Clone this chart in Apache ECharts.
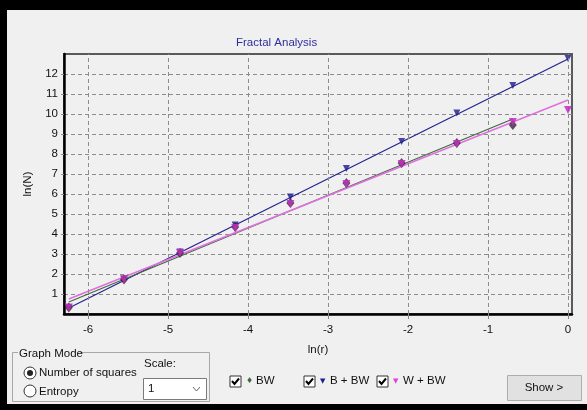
<!DOCTYPE html>
<html>
<head>
<meta charset="utf-8">
<script src="https://cdn.jsdelivr.net/npm/echarts@6/dist/echarts.min.js"></script>
<style>
  body { margin: 0; background: #000; }
  #main { width: 587px; height: 410px; }
</style>
</head>
<body>
<div id="main"></div>
<script>
// ln(r) positions of the box sizes
var lnR = [-6.24, -5.55, -4.85, -4.16, -3.47, -2.77, -2.08, -1.39, -0.69, 0];
// ln(N) for each set
var bw = [0.33, 1.72, 3.05, 4.35, 5.55, 6.55, 7.55, 8.55, 9.45];
var bbw = [0.33, 1.75, 3.1, 4.45, 5.85, 7.28, 8.62, 10.05, 11.43, 12.77];
var wbw = [0.33, 1.72, 3.05, 4.3, 5.5, 6.5, 7.5, 8.5, 9.6, 10.2];
// fitted lines (end points)
var bwFitX = [-6.24, -0.69], bwFitY = [0.6, 9.75];
var bbwFitX = [-6.24, 0], bbwFitY = [0.3, 12.75];
var wbwFitX = [-6.24, 0], wbwFitY = [0.75, 10.7];
// tick labels
var xTicks = [-6, -5, -4, -3, -2, -1, 0];
var yTicks = [1, 2, 3, 4, 5, 6, 7, 8, 9, 10, 11, 12];

function pairs(xs, ys) {
    return ys.map(function (y, i) { return [xs[i], y]; });
}

var font = 'Liberation Sans';
var gridDash = { color: '#8c8c8c', type: [4, 3], width: 1 };

function checkbox(x, y) {
    return [
        { type: 'rect', shape: { x: x, y: y, width: 11, height: 11 },
          style: { fill: '#fff', stroke: '#333', lineWidth: 1 } },
        { type: 'polyline', shape: { points: [[x + 2, y + 5], [x + 4.5, y + 8], [x + 9, y + 2.5]] },
          style: { stroke: '#000', lineWidth: 2, fill: null } }
    ];
}
function txt(x, y, s, extra) {
    var st = { x: x, y: y, text: s, fill: '#111', font: '11.5px "' + font + '"', textVerticalAlign: 'middle' };
    for (var k in extra) st[k] = extra[k];
    return { type: 'text', style: st };
}

var myChart = echarts.init(document.getElementById('main'));
var option = {
    backgroundColor: '#f0f0f0',
    animation: false,
    textStyle: { fontFamily: font },
    title: {
        text: 'Fractal Analysis',
        left: 231,
        top: 32,
        textStyle: { fontWeight: 'normal', fontSize: 11.5, color: '#2e2e9e', fontFamily: font }
    },
    grid: {
        left: 64, top: 54, right: 15, bottom: 96,
        show: true, borderColor: '#5a5a5a', borderWidth: 2, backgroundColor: 'transparent'
    },
    xAxis: {
        type: 'value',
        min: -6.3,
        max: 0.05,
        name: 'ln(r)',
        nameLocation: 'middle',
        nameGap: 30,
        nameTextStyle: { color: '#111', fontSize: 11.5 },
        axisLine: { onZero: false, lineStyle: { color: '#000', width: 2.5 } },
        axisTick: { show: true, customValues: xTicks, length: 5, lineStyle: { color: '#888' } },
        axisLabel: { customValues: xTicks, color: '#111', fontSize: 11.5, margin: 10 },
        splitLine: { show: false }
    },
    yAxis: {
        type: 'value',
        min: 0,
        max: 13,
        interval: 1,
        name: 'ln(N)',
        nameLocation: 'middle',
        nameGap: 26,
        nameTextStyle: { color: '#111', fontSize: 11.5 },
        axisLine: { onZero: false, lineStyle: { color: '#000', width: 2.5 } },
        axisTick: { show: true, customValues: yTicks, length: 3, lineStyle: { color: '#888' } },
        axisLabel: { customValues: yTicks, color: '#111', fontSize: 11.5, margin: 6 },
        splitLine: { show: true, lineStyle: gridDash }
    },
    series: [
        {
            name: 'grid', type: 'line', data: [], silent: true,
            markLine: {
                silent: true, symbol: 'none', label: { show: false },
                lineStyle: gridDash,
                data: xTicks.map(function (v) { return { xAxis: v }; })
            }
        },
        { name: 'B + BW fit', type: 'line', data: pairs(bbwFitX, bbwFitY), showSymbol: false,
          lineStyle: { color: '#22228f', width: 1.2 }, z: 3 },
        { name: 'BW fit', type: 'line', data: pairs(bwFitX, bwFitY), showSymbol: false,
          lineStyle: { color: '#3f6a3f', width: 1.2 }, z: 3 },
        { name: 'W + BW fit', type: 'line', data: pairs(wbwFitX, wbwFitY), showSymbol: false,
          lineStyle: { color: '#e070e0', width: 1.5 }, z: 3 },
        { name: 'B + BW', type: 'scatter', data: pairs(lnR, bbw), symbol: 'triangle', symbolRotate: 180,
          symbolSize: 7, itemStyle: { color: '#1c1c8c' }, z: 4 },
        { name: 'BW', type: 'scatter', data: pairs(lnR, bw), symbol: 'diamond',
          symbolSize: [8, 10], itemStyle: { color: '#3c203c' }, z: 4 },
        { name: 'W + BW', type: 'scatter', data: pairs(lnR, wbw), symbol: 'triangle', symbolRotate: 180,
          symbolSize: 8, itemStyle: { color: '#c030c0', opacity: 0.85 }, z: 5 }
    ],
    graphic: [
        // black window frame
        { type: 'rect', shape: { x: 0, y: 0, width: 587, height: 10 }, style: { fill: '#000' } },
        { type: 'rect', shape: { x: 0, y: 0, width: 7, height: 410 }, style: { fill: '#000' } },
        { type: 'rect', shape: { x: 0, y: 404, width: 587, height: 6 }, style: { fill: '#000' } },
        // Graph Mode group box
        { type: 'polyline', shape: { points: [[18, 352.5], [12.5, 352.5], [12.5, 401.5], [209.5, 401.5], [209.5, 352.5], [80, 352.5]] },
          style: { stroke: '#a8a8a8', lineWidth: 1, fill: null } },
        txt(19, 354, 'Graph Mode'),
        { type: 'circle', shape: { cx: 30, cy: 373, r: 6 }, style: { fill: '#fff', stroke: '#333', lineWidth: 1 } },
        { type: 'circle', shape: { cx: 30, cy: 373, r: 3 }, style: { fill: '#222' } },
        txt(39, 373, 'Number of squares'),
        { type: 'circle', shape: { cx: 30, cy: 391, r: 6 }, style: { fill: '#fff', stroke: '#333', lineWidth: 1 } },
        txt(39, 392, 'Entropy'),
        txt(144, 364, 'Scale:'),
        { type: 'rect', shape: { x: 143.5, y: 378.5, width: 63, height: 21 }, style: { fill: '#fff', stroke: '#7a7a7a', lineWidth: 1 } },
        txt(148, 389, '1'),
        { type: 'polyline', shape: { points: [[193, 387], [196.5, 391], [200, 387]] },
          style: { stroke: '#666', lineWidth: 1, fill: null } }
    ]
        .concat(checkbox(230, 376))
        .concat([
            txt(246, 381, '\u2666', { fill: '#3f6a3f', font: '8px "DejaVu Sans"' }),
            txt(256, 381, 'BW')
        ])
        .concat(checkbox(304, 376))
        .concat([
            txt(320, 381, '\u25BC', { fill: '#1c1c8c', font: '7px "DejaVu Sans"' }),
            txt(330, 381, 'B + BW')
        ])
        .concat(checkbox(377, 376))
        .concat([
            txt(393, 381, '\u25BC', { fill: '#e040e0', font: '7px "DejaVu Sans"' }),
            txt(403, 381, 'W + BW')
        ])
        .concat([
            { type: 'rect', shape: { x: 507.5, y: 375.5, width: 74, height: 25 },
              style: { fill: '#e1e1e1', stroke: '#adadad', lineWidth: 1 } },
            txt(544, 388, 'Show >', { textAlign: 'center' })
        ])
};
myChart.setOption(option);
</script>
</body>
</html>
